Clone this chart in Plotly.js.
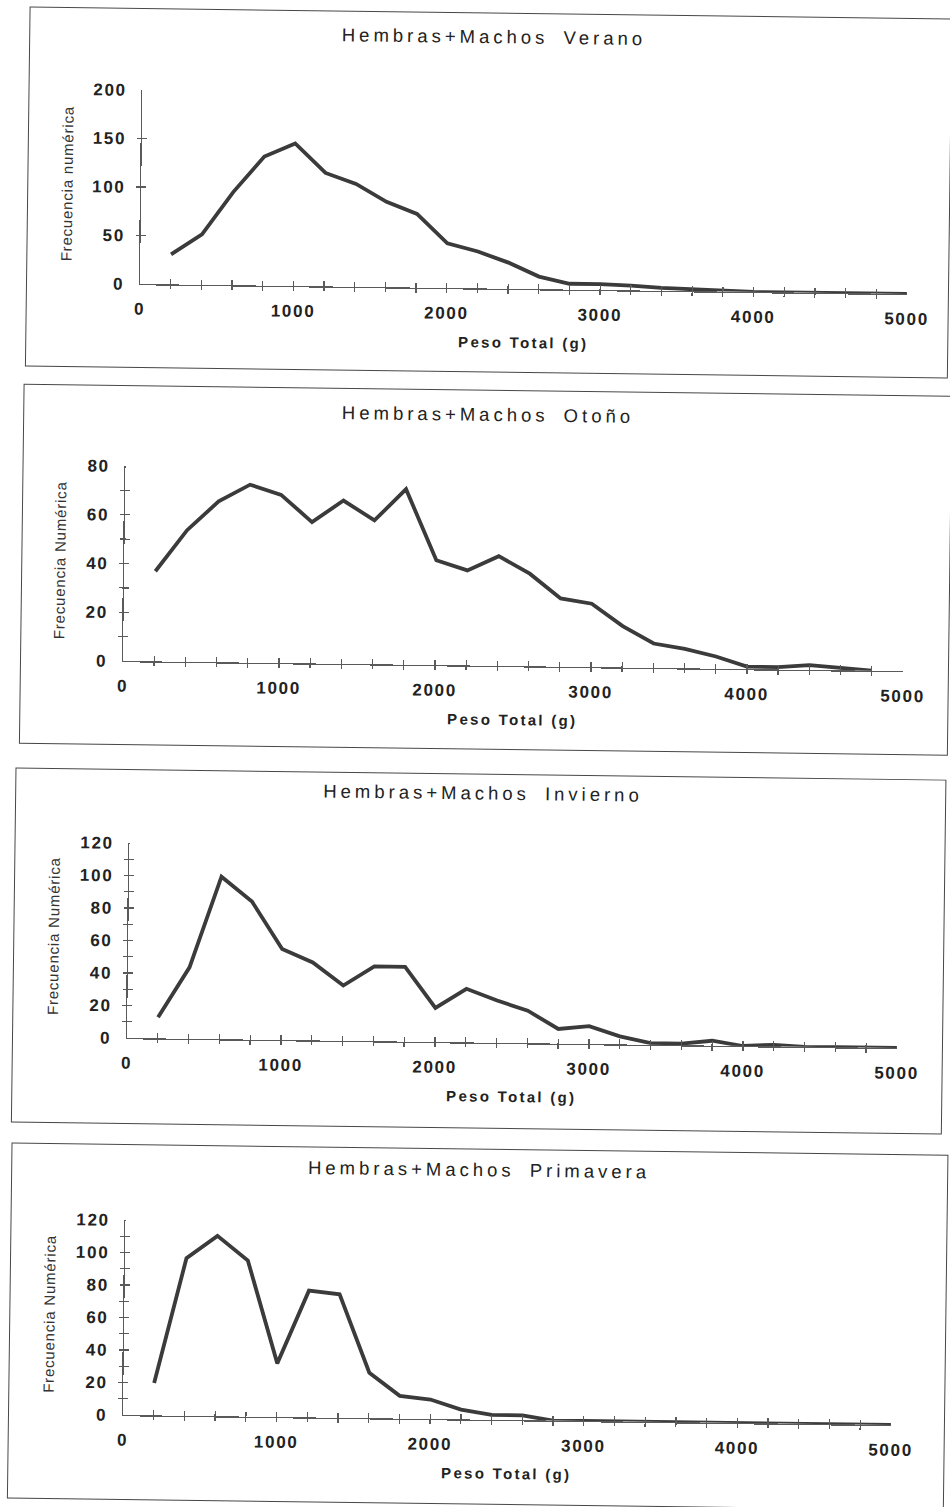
<!DOCTYPE html>
<html>
<head>
<meta charset="utf-8">
<script src="https://cdn.plot.ly/plotly-3.0.1.min.js"></script>
<style>
  html, body { margin: 0; padding: 0; background: #fff; width: 950px; height: 1507px; overflow: hidden; }
  body { position: relative; }
  .panel { position: absolute; outline: 1.6px solid #474747; }
  .panel .gtitle { letter-spacing: 4px; word-spacing: 6px; }
  .panel .xtick text, .panel .ytick text { letter-spacing: 1.7px; }
  .panel g.annotation[data-index="0"] text { letter-spacing: 2.3px; }
  .panel g.annotation[data-index="1"] text { letter-spacing: 0.8px; }
  /* centre the tick marks on the axis lines so they cross them */
  .panel .xaxislayer-above path { translate: 0 5px; }
  .panel .yaxislayer-above path { translate: -5px 0; }
</style>
</head>
<body>
<div id="verano" class="panel"></div>
<div id="otono" class="panel"></div>
<div id="invierno" class="panel"></div>
<div id="primavera" class="panel"></div>
<script>
// Peso total (g): class marks every 200 g
const pesoTotal = [200, 400, 600, 800, 1000, 1200, 1400, 1600, 1800, 2000, 2200, 2400, 2600,
                   2800, 3000, 3200, 3400, 3600, 3800, 4000, 4200, 4400, 4600, 4800, 5000];

// Frecuencia numérica por estación
const verano    = [31, 52, 96, 133, 147, 117, 106, 88, 76, 46, 38, 27, 13, 6, 6, 5, 3, 2, 1, 0, 0, 0, 0, 0, 0];
const otono     = [37, 54, 66, 73, 69, 58, 67, 59, 72, 43, 39, 45, 38, 28, 26, 17, 10, 8, 5, 1, 1, 2, 1, 0];
const invierno  = [13, 44, 100, 85, 56, 48, 34, 46, 46, 21, 33, 26, 20, 9, 11, 5, 1, 1, 3, 0, 1, 0, 0, 0, 0];
const primavera = [20, 97, 111, 96, 33, 78, 76, 28, 14, 12, 6, 3, 3, 0, 0, 0, 0, 0, 0, 0, 0, 0, 0, 0, 0];

const titulos  = ['Hembras+Machos Verano', 'Hembras+Machos Otoño', 'Hembras+Machos Invierno', 'Hembras+Machos Primavera'];
const yTitulos = ['Frecuencia numérica', 'Frecuencia Numérica', 'Frecuencia Numérica', 'Frecuencia Numérica'];
const xTitulo  = 'Peso Total (g)';
const yMax     = [200, 80, 120, 120];
const yPaso    = [50, 20, 20, 20];
const yMenor   = [null, 10, 10, 10];

// panel frames and plot areas (px)
const panels = [
  { id: 'verano',    left: 27, top: 9,      width: 921, height: 357.5, l: 113,   t: 81,   w: 767,   h: 193.3, tx: 463.8, ty: 23.1, ytx: -74,   yty: 0.512 },
  { id: 'otono',     left: 21, top: 386,    width: 927, height: 358,   l: 102.3, t: 79.7, w: 780,   h: 195,   tx: 463.8, ty: 23.8, ytx: -64.8, yty: 0.512 },
  { id: 'invierno',  left: 13, top: 769.5,  width: 929, height: 352.5, l: 113.7, t: 73.2, w: 770.3, h: 194.3, tx: 466.8, ty: 18.4, ytx: -75,   yty: 0.516 },
  { id: 'primavera', left: 9,  top: 1144.5, width: 935, height: 353.5, l: 114.3, t: 74.5, w: 768.2, h: 195,   tx: 466.8, ty: 20.1, ytx: -75.2, yty: 0.516 }
];
const series = [verano, otono, invierno, primavera];

const TILT = 0.745; // degrees, page tilt of each frame
const tickFam = 'Liberation Sans, Arial, sans-serif';
const axisCol = '#5a5a5a';
const lineCol = '#3b3b3b';

panels.forEach((p, i) => {
  const el = document.getElementById(p.id);
  el.style.left = p.left + 'px';
  el.style.top = p.top + 'px';
  el.style.width = p.width + 'px';
  el.style.height = p.height + 'px';
  el.style.transformOrigin = p.l + 'px ' + (p.t + p.h) + 'px';
  el.style.transform = 'rotate(' + TILT + 'deg)';

  const trace = {
    type: 'scatter', mode: 'lines',
    x: pesoTotal, y: series[i],
    line: { color: lineCol, width: 3.8 },
    cliponaxis: false, hoverinfo: 'skip'
  };

  const tickFont = { family: tickFam, size: 17, color: '#222', weight: 'bold' };

  const xaxis = {
    range: [0, 5000], tick0: 0, dtick: 1000, showgrid: false, zeroline: false, fixedrange: true,
    ticks: 'inside', ticklen: 10, tickwidth: 1.3, tickcolor: axisCol,
    minor: { dtick: 200, tick0: 0, ticks: 'inside', ticklen: 10, tickwidth: 1.3, tickcolor: axisCol },
    showline: true, linecolor: axisCol, linewidth: 1.3,
    tickfont: tickFont, ticklabelstandoff: 9
  };
  const yaxis = {
    range: [0, yMax[i]], tick0: 0, dtick: yPaso[i], showgrid: false, zeroline: false, fixedrange: true,
    ticks: 'inside', ticklen: 10, tickwidth: 1.3, tickcolor: axisCol,
    showline: true, linecolor: axisCol, linewidth: 1.3,
    tickfont: tickFont, ticklabelstandoff: 11
  };
  if (yMenor[i]) yaxis.minor = { dtick: yMenor[i], tick0: 0, ticks: 'inside', ticklen: 10, tickwidth: 1.3, tickcolor: axisCol };

  const layout = {
    width: p.width, height: p.height,
    margin: { l: p.l, t: p.t, r: p.width - p.l - p.w, b: p.height - p.t - p.h, pad: 0 },
    paper_bgcolor: 'rgba(0,0,0,0)', plot_bgcolor: 'rgba(0,0,0,0)',
    showlegend: false,
    title: {
      text: titulos[i], xref: 'container', yref: 'container',
      x: p.tx / p.width, y: 1 - p.ty / p.height, xanchor: 'center', yanchor: 'middle',
      font: { family: tickFam, size: 18.5, color: '#222' }
    },
    xaxis: xaxis, yaxis: yaxis,
    annotations: [
      { text: xTitulo, xref: 'paper', yref: 'paper', x: 0.5, y: 0, yshift: -53.5,
        xanchor: 'center', yanchor: 'middle', showarrow: false,
        font: { family: tickFam, size: 15, color: '#222', weight: 'bold' } },
      { text: yTitulos[i], xref: 'paper', yref: 'paper', x: 0, y: p.yty, xshift: p.ytx,
        xanchor: 'center', yanchor: 'middle', textangle: -90, showarrow: false,
        font: { family: tickFam, size: 15, color: '#333' } }
    ]
  };

  Plotly.newPlot(el, [trace], layout, { staticPlot: true, displayModeBar: false });
});
</script>
</body>
</html>
